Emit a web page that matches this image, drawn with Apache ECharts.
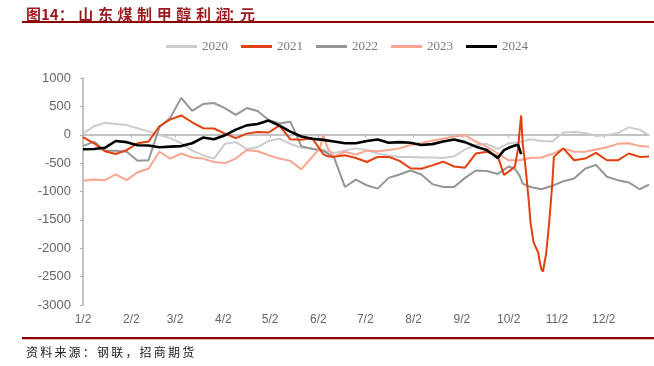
<!DOCTYPE html>
<html>
<head>
<meta charset="utf-8">
<script src="https://cdn.jsdelivr.net/npm/echarts@6/dist/echarts.min.js"></script>
<style>
    html, body { margin: 0; padding: 0; background: #fff; }
    #wrap { position: relative; width: 654px; height: 366px; overflow: hidden; }
    #title { position: absolute; left: 26px; top: 3px; font-family: "Noto Sans CJK SC"; font-weight: bold; font-size: 15px; color: #9a1b1e; white-space: nowrap; }
    #rule_top { position: absolute; left: 22px; right: 0; top: 21px; height: 2px; background: #8b0000; }
    #rule_bottom { position: absolute; left: 22px; right: 0; top: 337px; height: 2px; background: #8b0000; border-bottom: 1px solid #e3b3b3; }
    #source { position: absolute; left: 26px; top: 343px; font-family: "Noto Sans CJK SC"; font-size: 12px; letter-spacing: 2.2px; color: #222; white-space: nowrap; }
    #main { position: absolute; left: 0; top: 0; width: 654px; height: 366px; }
</style>
</head>
<body>
<div id="wrap">
    <div id="main"></div>
    <div id="title"><span>图14</span><span style="letter-spacing:4.6px">：山东煤制甲醇利</span><span style="letter-spacing:-3px">润 ：元</span></div>
    <div id="rule_top"></div>
    <div id="rule_bottom"></div>
    <div id="source">资料来源：钢联，招商期货</div>
</div>
<script>
//图例名称
var seriesNames = ["2020", "2021", "2022", "2023", "2024"];
var lineColors = ['#cccccc', '#e2400f', '#969696', '#f9a590', '#000000'];

//x轴刻度标签
var tickLabels = ["1/2", "2/2", "3/2", "4/2", "5/2", "6/2", "7/2", "8/2", "9/2", "10/2", "11/2", "12/2"];

//取样日期
var sampleDates = [
    "1/2", "1/9", "1/16", "1/23", "1/30", "2/6", "2/13", "2/20", "2/27",
    "3/6", "3/13", "3/20", "3/27", "4/3", "4/10", "4/17", "4/24",
    "5/1", "5/8", "5/15", "5/22", "5/29", "6/3", "6/5", "6/8", "6/12", "6/19", "6/26",
    "7/3", "7/10", "7/17", "7/24", "7/31", "8/7", "8/14", "8/21", "8/28",
    "9/4", "9/11", "9/18", "9/25", "9/29", "10/2", "10/6", "10/8", "10/9", "10/10", "10/11",
    "10/13", "10/15", "10/16", "10/18", "10/21", "10/22", "10/23", "10/24", "10/26", "10/28", "10/30", "10/31",
    "11/6", "11/13", "11/20", "11/27", "12/4", "12/11", "12/18", "12/25", "12/31"
];

var profit2020 = [
    20, 150, 210, 190, 170, 115, 60, 0, -60,
    -150, -280, -360, -420, -160, -130, -250, -220,
    -110, -70, -160, -230, -240, null, -270, null, -320, -280, -240,
    -270, -330, -370, -390, -390, -400, -400, -410, -380,
    -260, -180, -160, -250, null, -150, null, null, -130, null, null,
    null, null, -80, null, null, null, -110, null, null, null, -120, null,
    40, 50, 30, -20, -10, 30, 130, 90, -10
];

var profit2021 = [
    -40, -150, -290, -340, -270, -150, -120, 150, 270,
    340, 220, 115, 110, 20, -60, 20, 50,
    40, 160, -80, -90, -60, -260, -340, -380, -390, -360, -410,
    -480, -390, -390, -460, -590, -600, -540, -475, -560,
    -580, -330, -300, -380, -710, -650, -560, -250, 60, 340, -150,
    -620, -1200, -1550, -1900, -2080, -2250, -2370, -2410, -2100, -1550, -850, -390,
    -240, -450, -420, -320, -450, -450, -330, -390, -385
];

var profit2022 = [
    -200, -120, -280, -280, -300, -460, -450, 130, 300,
    650, 420, 540, 560, 470, 350, 470, 420,
    260, 200, 230, -200, -250, null, -280, null, -400, -920, -790,
    -890, -950, -760, -700, -630, -700, -870, -920, -920,
    -760, -630, -640, -690, null, -560, -600, null, -720, null, -860,
    null, null, -920, null, null, null, -960, null, null, null, -900, null,
    -820, -770, -600, -530, -740, -800, -840, -960, -880
];

var profit2023 = [
    -810, -790, -800, -700, -800, -660, -600, -300, -420,
    -330, -400, -420, -480, -500, -420, -270, -290,
    -360, -420, -460, -610, -390, -240, 0, -240, -387, -300, -350,
    -280, -290, -270, -240, -180, -150, -100, -70, -30,
    -10, -120, -210, -330, null, -450, null, null, -450, null, null,
    null, null, -410, null, null, null, -400, null, null, null, -340, null,
    -240, -300, -300, -260, -220, -160, -150, -200, -210
];

var profit2024 = [
    -255, -250, -230, -110, -130, -185, -190, -220, -210,
    -200, -150, -50, -80, -10, 90, 165, 190,
    250, 160, 55, -30, -70, null, -90, null, -120, -150, -150,
    -110, -85, -140, -130, -140, -180, -165, -120, -85,
    -130, -210, -270, -410, -270, -230, -190, -175, -190, -340, null,
    null, null, null, null, null, null, null, null, null, null, null, null,
    null, null, null, null, null, null, null, null, null
];

/**
 * 生成每日类目 1/2 - 12/31
 */
function buildDays() {
    var monthDays = [31, 28, 31, 30, 31, 30, 31, 31, 30, 31, 30, 31];
    var days = [];
    for (var m = 0; m < 12; m++) {
        for (var d = 1; d <= monthDays[m]; d++) {
            if (m == 0 && d == 1) continue;
            days.push((m + 1) + "/" + d);
        }
    }
    return days;
}

/**
 * 山东煤制甲醇利润
 */
function showProfitChart() {
    var days = buildDays();
    var allValues = [profit2020, profit2021, profit2022, profit2023, profit2024];
    var zList = [2, 3, 2, 2, 4];
    var seriesData = [];
    for (var i = 0; i < seriesNames.length; i++) {
        var itemData = [];
        for (var j = 0; j < sampleDates.length; j++) {
            if (allValues[i][j] !== null) {
                itemData.push([sampleDates[j], allValues[i][j]]);
            }
        }
        seriesData.push({
            name: seriesNames[i],
            type: 'line',
            symbol: 'none',
            z: zList[i],
            lineStyle: { width: i == 4 ? 2.6 : 2, color: lineColors[i] },
            itemStyle: { color: lineColors[i] },
            data: itemData
        });
    }

    var showTick = function (index, value) {
        return tickLabels.indexOf(value) >= 0;
    };

    var option = {
        animation: false,
        color: lineColors,
        legend: {
            data: seriesNames,
            left: 166,
            top: 40,
            padding: 0,
            icon: 'rect',
            itemWidth: 31,
            itemHeight: 3,
            itemGap: 13,
            textStyle: { fontFamily: 'Liberation Serif', fontSize: 13, color: '#7a7a7a' }
        },
        grid: { left: 83, right: 5, top: 78, bottom: 61 },
        xAxis: [
            {
                type: 'category',
                data: days,
                boundaryGap: false,
                axisLine: { show: false, onZero: false },
                axisTick: { show: false },
                axisLabel: {
                    interval: showTick,
                    color: '#666',
                    fontFamily: 'Liberation Sans',
                    fontSize: 12,
                    margin: 9
                }
            },
            {
                type: 'category',
                data: days,
                position: 'bottom',
                boundaryGap: false,
                axisLine: { onZero: true, lineStyle: { color: '#b0b0b0', width: 1.5 } },
                axisTick: { show: true, interval: showTick, length: 3, lineStyle: { color: '#b0b0b0' } },
                axisLabel: { show: false }
            }
        ],
        yAxis: [
            {
                type: 'value',
                min: -3000,
                max: 1000,
                interval: 500,
                splitLine: { show: false },
                axisLine: { show: true, lineStyle: { color: '#b0b0b0', width: 1.5 } },
                axisTick: { show: true, length: 3, lineStyle: { color: '#b0b0b0' } },
                axisLabel: {
                    color: '#666',
                    fontFamily: 'Liberation Sans',
                    fontSize: 13,
                    margin: 12,
                    formatter: function (v) { return String(v); }
                }
            }
        ],
        series: seriesData
    };

    var dom_chart = echarts.init(document.getElementById('main'));
    dom_chart.setOption(option);
}

showProfitChart();
</script>
</body>
</html>
